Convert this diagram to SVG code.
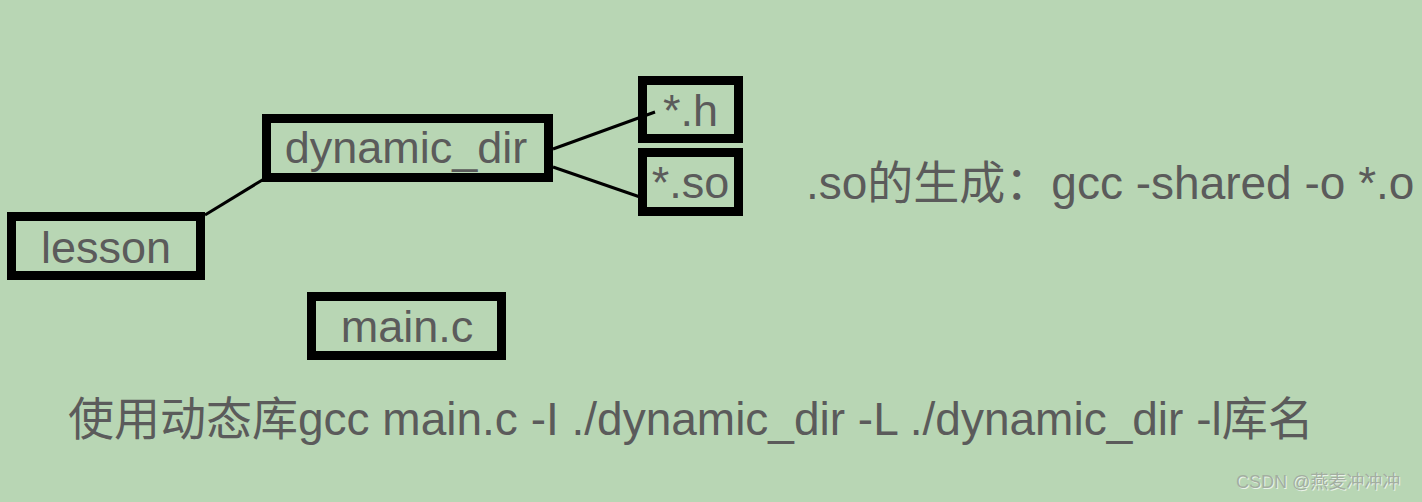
<svg xmlns="http://www.w3.org/2000/svg" width="1422" height="502" viewBox="0 0 1422 502">
<style>
.box{fill:none;stroke:#000;stroke-width:9}
.t{font-family:"Liberation Sans","Noto Sans CJK SC",sans-serif;font-size:45px;fill:#5b5b5b}
.big{font-size:46px}
.c{text-anchor:middle}
.edge{stroke:#000;stroke-width:3;fill:none}
.wm{font-family:"Liberation Sans","Noto Sans CJK SC",sans-serif;font-size:18px}
</style>
<rect width="1422" height="502" fill="#b8d6b4"/>
<g id="connectors">
<line class="edge" x1="205" y1="215" x2="264" y2="179"/>
<line class="edge" x1="553" y1="149" x2="655" y2="112"/>
<line class="edge" x1="553" y1="167" x2="640" y2="197"/>
</g>
<g id="lesson">
<rect class="box" x="11.5" y="216.5" width="189" height="59"/>
<text class="t c" x="106" y="263">lesson</text>
</g>
<g id="dynamic_dir">
<rect class="box" x="266.5" y="118.5" width="282" height="59"/>
<text class="t c" x="406" y="163">dynamic_dir</text>
</g>
<g id="h">
<rect class="box" x="642.5" y="80.5" width="96" height="58"/>
<text class="t c" x="690.5" y="126">*.h</text>
</g>
<g id="so">
<rect class="box" x="642.5" y="152.5" width="96" height="59"/>
<text class="t c" x="690.5" y="198">*.so</text>
</g>
<g id="mainc">
<rect class="box" x="311.5" y="296.5" width="190" height="59"/>
<text class="t c" x="407" y="342">main.c</text>
</g>
<text class="t big" x="806" y="199">.so的生成：gcc -shared -o *.o</text>
<text class="t big" x="68" y="435">使用动态库gcc main.c -I ./dynamic_dir -L ./dynamic_dir -l库名</text>
<text class="wm" x="1237" y="489" fill="#ffffff" opacity="0.7">CSDN @燕麦冲冲冲</text>
<text class="wm" x="1236" y="488" fill="#a3aea1">CSDN @燕麦冲冲冲</text>
</svg>
